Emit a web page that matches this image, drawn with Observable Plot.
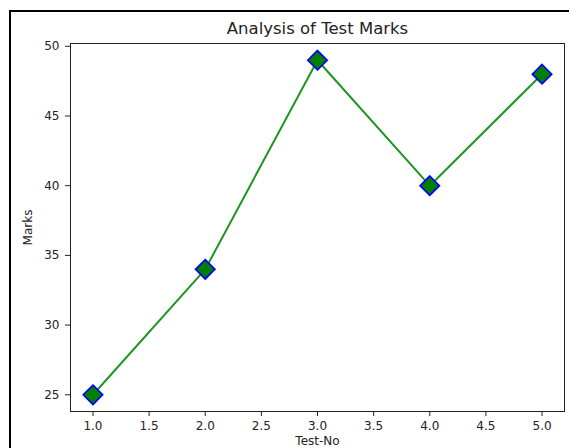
<!DOCTYPE html>
<html>
<head>
<meta charset="utf-8">
<script src="https://cdn.jsdelivr.net/npm/d3@7"></script>
<script src="https://cdn.jsdelivr.net/npm/@observablehq/plot@0.6"></script>
<style>
  html, body { margin: 0; padding: 0; background: #fff; }
  #wrap { position: relative; width: 569px; height: 448px; overflow: hidden; background: #fff; font-family: "DejaVu Sans", sans-serif; }
  #title { position: absolute; left: 70px; width: 495px; top: 19px; height: 20px; line-height: 20px; text-align: center; font-size: 16.5px; color: #222; }
  #chart { position: absolute; left: 0; top: 32px; }
  #border { position: absolute; left: 9px; top: 10px; width: 600px; height: 500px; border: 2px solid #000; pointer-events: none; }
</style>
</head>
<body>
<div id="wrap">
  <div id="title">Analysis of Test Marks</div>
  <div id="chart"></div>
  <div id="border"></div>
</div>
<script>
const testNo = [1, 2, 3, 4, 5];
const marks = [25, 34, 49, 40, 48];
const xTicks = [1.0, 1.5, 2.0, 2.5, 3.0, 3.5, 4.0, 4.5, 5.0];
const yTicks = [25, 30, 35, 40, 45, 50];
const title = "Analysis of Test Marks";
const xLabel = "Test-No";
const yLabel = "Marks";

const data = testNo.map((t, i) => ({ test: t, mark: marks[i] }));
document.getElementById("title").textContent = title;

const chart = Plot.plot({
  width: 569,
  height: 416,
  marginLeft: 70,
  marginRight: 5,
  marginTop: 11,
  marginBottom: 37,
  style: { fontFamily: "DejaVu Sans, sans-serif", fontSize: "12px", background: "transparent", color: "#222" },
  x: { domain: [0.8, 5.2] },
  y: { domain: [23.8, 50.2] },
  marks: [
    Plot.axisX({ ticks: xTicks, tickFormat: d3.format(".1f"), tickSize: 5, tickPadding: 5, label: xLabel, labelAnchor: "center", labelArrow: "none", labelOffset: 33 }),
    Plot.axisY({ ticks: yTicks, tickSize: 5, tickPadding: 6, label: yLabel, labelAnchor: "center", labelArrow: "none", labelOffset: 47 }),
    Plot.frame({ stroke: "#222", strokeWidth: 1 }),
    Plot.line(data, { x: "test", y: "mark", stroke: "#1e961e", strokeWidth: 2 }),
    Plot.dot(data, { x: "test", y: "mark", symbol: "diamond2", r: 8.7, fill: "#008000", stroke: "#0000ff", strokeWidth: 1.7 })
  ]
});
document.getElementById("chart").appendChild(chart);
</script>
</body>
</html>
